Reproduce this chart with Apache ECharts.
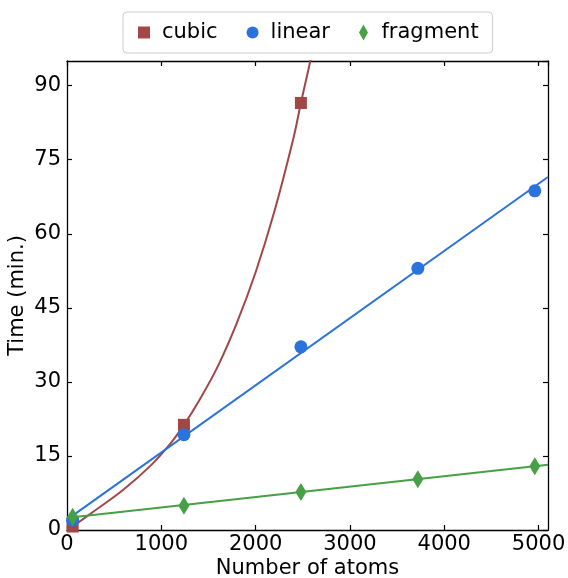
<!DOCTYPE html>
<html><head><meta charset="utf-8">
<script src="https://cdn.jsdelivr.net/npm/echarts@6/dist/echarts.min.js"></script>
<style>html,body{margin:0;padding:0;background:#fff}#c{width:568px;height:578px}</style>
</head><body><div id="c"></div>
<script>
// ---- data ----
const atoms = [60, 1240, 2480, 3720, 4960];
const cubicTimes = [0.7, 21.3, 86.5];
const linearTimes = [2.0, 19.3, 37.1, 53.0, 68.7];
const fragmentTimes = [2.7, 4.9, 7.7, 10.3, 12.9];
// fitted curves
const cubicFitX = [60, 300, 600, 900, 1100, 1240, 1400, 1600, 1800, 2000, 2200, 2400, 2480, 2600, 2650];
const cubicFitY = [0.7, 4.0, 8.2, 13.3, 17.6, 21.3, 26.2, 33.2, 41.9, 52.2, 64.6, 79.3, 86.5, 96.8, 102];
const linearFitX = [60, 5100];
const linearFitY = [2.9, 71.5];
const fragmentFitX = [60, 5100];
const fragmentFitY = [2.6, 13.2];
const seriesNames = ['cubic', 'linear', 'fragment'];
const xLabel = 'Number of atoms';
const yLabel = 'Time (min.)';

const pair = (xs, ys) => ys.map((y, i) => [xs[i], y]);
const RED = '#a34646', BLUE = '#2a72dc', GREEN = '#46a046';
const FONT = 'DejaVu Sans';
const diamondPath = 'path://M4.5,0L9,8L4.5,16L0,8Z';

const chart = echarts.init(document.getElementById('c'), null, {renderer: 'canvas'});
const axisCommon = {
  axisLine: {show: true, onZero: false, lineStyle: {color: '#000', width: 1.3}},
  axisTick: {show: true, inside: true, length: 5, lineStyle: {color: '#000', width: 1.2}},
  splitLine: {show: false}
};
chart.setOption({
  animation: false,
  backgroundColor: '#fff',
  grid: {left: 67, right: 20, top: 61, bottom: 48, outerBoundsMode: 'none', containLabel: false},
  legend: {
    data: [
      {name: seriesNames[0], icon: 'path://M0,0H1V1H0Z'},
      {name: seriesNames[1], icon: 'circle'},
      {name: seriesNames[2], icon: diamondPath}
    ],
    left: 123, top: 12,
    itemWidth: 12, itemHeight: 16, itemGap: 29,
    padding: [10, 14, 10, 15],
    borderColor: '#cccccc', borderWidth: 1, borderRadius: 4,
    textStyle: {fontFamily: FONT, fontSize: 21, color: '#000', padding: [0, 0, 0, 7]}
  },
  xAxis: [
    Object.assign({}, axisCommon, {
      type: 'value', min: 0, max: 5100, interval: 1000, position: 'bottom',
      name: xLabel, nameLocation: 'middle', nameGap: 28, nameMoveOverlap: false,
      nameTextStyle: {fontFamily: FONT, fontSize: 21, color: '#000'},
      axisLabel: {fontFamily: FONT, fontSize: 21, color: '#000', margin: 4, showMaxLabel: false,
                  formatter: v => String(v)}
    }),
    Object.assign({}, axisCommon, {
      type: 'value', min: 0, max: 5100, interval: 1000, position: 'top',
      axisLabel: {show: false}
    })
  ],
  yAxis: [
    Object.assign({}, axisCommon, {
      type: 'value', min: 0, max: 95, interval: 15, position: 'left',
      name: yLabel, nameLocation: 'middle', nameGap: 39, nameMoveOverlap: false,
      nameTextStyle: {fontFamily: FONT, fontSize: 21, color: '#000'},
      axisLabel: {fontFamily: FONT, fontSize: 21, color: '#000', margin: 6, showMaxLabel: false,
                  formatter: v => String(v)}
    }),
    Object.assign({}, axisCommon, {
      type: 'value', min: 0, max: 95, interval: 15, position: 'right',
      axisLabel: {show: false}
    })
  ],
  series: [
    {type: 'line', name: 'cubic fit', data: pair(cubicFitX, cubicFitY), smooth: 0.4,
     showSymbol: false, lineStyle: {color: RED, width: 2}, itemStyle: {color: RED}, clip: true, z: 2},
    {type: 'scatter', name: seriesNames[0], data: pair(atoms, cubicTimes), symbol: 'rect',
     symbolSize: 12, itemStyle: {color: RED, opacity: 1}, z: 3},
    {type: 'line', name: 'linear fit', data: pair(linearFitX, linearFitY),
     showSymbol: false, lineStyle: {color: BLUE, width: 2}, itemStyle: {color: BLUE}, clip: true, z: 4},
    {type: 'scatter', name: seriesNames[1], data: pair(atoms, linearTimes), symbol: 'circle',
     symbolSize: 13, itemStyle: {color: BLUE, opacity: 1}, z: 5},
    {type: 'line', name: 'fragment fit', data: pair(fragmentFitX, fragmentFitY),
     showSymbol: false, lineStyle: {color: GREEN, width: 2}, itemStyle: {color: GREEN}, clip: true, z: 6},
    {type: 'scatter', name: seriesNames[2], data: pair(atoms, fragmentTimes), symbol: diamondPath,
     symbolSize: [11, 18], symbolKeepAspect: false, itemStyle: {color: GREEN, opacity: 1}, z: 7}
  ]
});
</script>
</body></html>
